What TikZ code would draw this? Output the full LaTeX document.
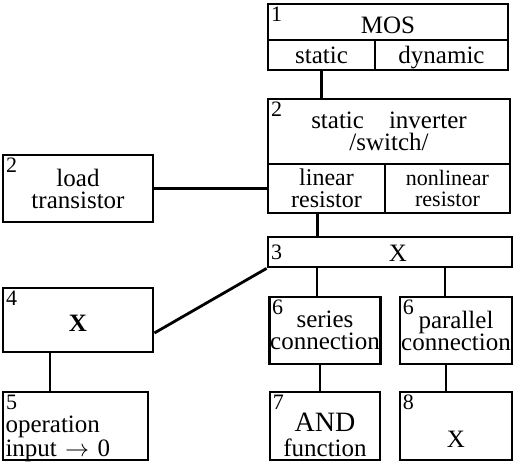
\documentclass[tikz,border=0pt]{standalone}
\usepackage{fontspec}
\setmainfont{Liberation Serif}
\usetikzlibrary{positioning, calc}

\begin{document}
\begin{tikzpicture}[x=0.5pt, y=-0.5pt, line width=1.4pt,
    box/.style={draw, rectangle, inner sep=0.5pt, align=center,
      font=\fontsize{12.5}{11}\selectfont},
    small/.style={font=\fontsize{11}{10.5}\selectfont},
    num/.style={anchor=north west, inner sep=1.5pt,
      font=\fontsize{11}{11}\selectfont}]
    \useasboundingbox (0,0) rectangle (516,465);

    % MOS block
    \node[box, minimum width=120pt, minimum height=18pt, text height=14.5pt, text depth=2.5pt, label={[num]north west:1}] (mos) at (388,22) {MOS};
    \node[box, minimum width=53.5pt, minimum height=15pt, text height=11.5pt, text depth=2.5pt] (mosstat) at (321.5,55) {static};
    \node[box, minimum width=66.5pt, minimum height=15pt, text height=11.5pt, text depth=2.5pt] (mosdyn) at (441.5,55) {dynamic};

    % static inverter block
    \node[box, minimum width=121pt, minimum height=32.5pt, label={[num]north west:2}] (inv) at (389,131.5) {static\quad inverter\\/switch/};
    \node[box, small, font=\fontsize{12}{11}\selectfont, minimum width=58.5pt, minimum height=24.5pt] (invlin) at (326.5,188.5) {linear\\resistor};
    \node[box, small, minimum width=62.5pt, minimum height=24.5pt] (invnonlin) at (447.5,188.5) {nonlinear\\resistor};
    \node[box, minimum width=75pt, minimum height=33.5pt, label={[num]north west:2}] (load) at (78,188.5) {load\\transistor};

    % X blocks
    \node[box, minimum width=122pt, minimum height=15pt, text height=11.5pt, text depth=2pt, label={[num, anchor=west]west:3}] (xsel) at (390,252) {\hspace*{8pt}X};
    \node[box, minimum width=75pt, minimum height=32pt, text height=21.5pt, text depth=9.5pt, label={[num]north west:4}] (xleft) at (78,320) {\textbf{X}};
    \node[box, minimum width=55pt, minimum height=33.5pt, label={[num]north west:6}] (series) at (325,330.5) {series\\connection};
    \node[box, minimum width=56pt, minimum height=33.5pt, label={[num]north west:6}] (parallel) at (456,330.5) {parallel\\connection};

    % bottom row
    \node[box, font=\fontsize{12.5}{12}\selectfont, minimum width=72.5pt, minimum height=34pt, text width=70pt, text height=20pt, text depth=13pt, align=left, label={[num]north west:5}] (oper) at (75.5,426) {operation\\input $\rightarrow$ 0};
    \node[box, minimum width=55pt, minimum height=34pt, text height=32pt, text depth=1pt, label={[num]north west:7}] (andfn) at (325,426) {{\fontsize{14}{11}\selectfont AND}\\[1.5pt]function};
    \node[box, minimum width=56pt, minimum height=34pt, text height=22pt, text depth=0pt, label={[num]north west:8}] (xright) at (456,426) {X};

    % connections
    \coordinate (linout) at ([xshift=-4.5pt]invlin.south);
    \coordinate (serin) at ([xshift=-4pt]series.north);
    \coordinate (parin) at ([xshift=-5.5pt]parallel.north);
    \coordinate (serout) at ([xshift=-2.5pt]series.south);
    \coordinate (parout) at ([xshift=-5pt]parallel.south);
    \coordinate (xleftout) at ([xshift=-14pt]xleft.south);
    \draw (mosstat) -- (mosstat |- inv.north);
    \draw (load) -- (invlin);
    \draw (linout) -- (linout |- xsel.north);
    \draw (xsel.south west) -- ([yshift=-6.5pt]xleft.east);
    \draw (serin |- xsel.south) -- (serin);
    \draw (parin |- xsel.south) -- (parin);
    \draw (serout) -- (serout |- andfn.north);
    \draw (parout) -- (parout |- xright.north);
    \draw (xleftout) -- (xleftout |- oper.north);
\end{tikzpicture}
\end{document}
